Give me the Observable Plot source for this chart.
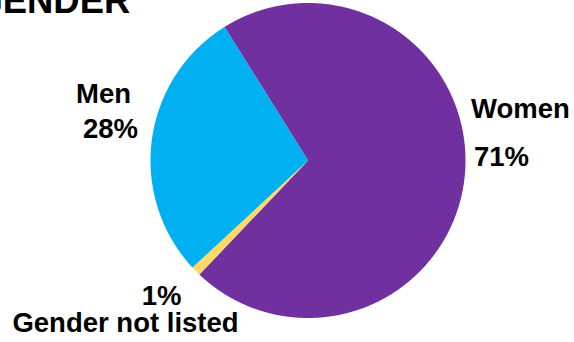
<!DOCTYPE html>
<html><head><meta charset="utf-8">
<script src="https://cdn.jsdelivr.net/npm/d3@7"></script>
<script src="https://cdn.jsdelivr.net/npm/@observablehq/plot@0.6"></script>
<style>html,body{margin:0;padding:0;background:#fff;overflow:hidden} svg{display:block}</style>
</head><body><div id="chart"></div>
<script>
// ---- data ----
const title = "GENDER";
const categories = ["Women", "Gender not listed", "Men"];
const values = [71, 1, 28];
const percentLabels = ["71%", "1%", "28%"];
const colors = ["#7030A0", "#FFD966", "#00B0F0"];

// ---- layout ----
const W = 574, H = 342, cx = 307.5, cy = 160, R = 157.5;
const ux = p => (p - cx) / R, uy = p => (cy - p) / R;
const startAngle = -32 * Math.PI / 180;
const labelLayout = {
  "Women": {name: [520, 108.5], pct: [501, 156.5]},
  "Gender not listed": {name: [125, 322.5], pct: [161, 295.5]},
  "Men": {name: [103, 93.5], pct: [110, 128.5]}
};
const fontSize = 27.5;

const rows = categories.map((c, i) => ({category: c, value: values[i], pct: percentLabels[i]}));
const arcs = d3.pie().sort(null).value(d => d.value)
  .startAngle(startAngle).endAngle(startAngle + 2 * Math.PI)(rows);

const slicePts = [];
for (const a of arcs) {
  const cat = a.data.category;
  slicePts.push({category: cat, x: 0, y: 0});
  const n = Math.max(4, Math.ceil((a.endAngle - a.startAngle) / (Math.PI / 720)));
  for (let k = 0; k <= n; k++) {
    const t = a.startAngle + (a.endAngle - a.startAngle) * k / n;
    slicePts.push({category: cat, x: Math.sin(t), y: Math.cos(t)});
  }
  slicePts.push({category: cat, x: 0, y: 0});
}

const chart = Plot.plot({
  width: W, height: H, margin: 0,
  x: {domain: [ux(0), ux(W)], axis: null},
  y: {domain: [uy(H), uy(0)], axis: null},
  color: {domain: categories, range: colors},
  style: {fontFamily: "'Liberation Sans', Arial, sans-serif", background: "#fff", overflow: "visible"},
  marks: [
    Plot.line(slicePts, {x: "x", y: "y", z: "category", fill: "category", stroke: "none", curve: "linear"}),
    Plot.text(rows, {
      x: d => ux(labelLayout[d.category].name[0]), y: d => uy(labelLayout[d.category].name[1]),
      text: "category", fontSize, fontWeight: "bold", fill: "#000", textAnchor: "middle", lineAnchor: "middle"
    }),
    Plot.text(rows, {
      x: d => ux(labelLayout[d.category].pct[0]), y: d => uy(labelLayout[d.category].pct[1]),
      text: "pct", fontSize, fontWeight: "bold", fill: "#000", textAnchor: "middle", lineAnchor: "middle"
    }),
    Plot.text([title], {
      frameAnchor: "top-left", text: d => d, dx: -26, dy: -13.8,
      fontSize: 36.4, fontWeight: "bold", fill: "#000", textAnchor: "start", lineAnchor: "top"
    })
  ]
});
document.getElementById("chart").append(chart);
</script>
</body></html>
